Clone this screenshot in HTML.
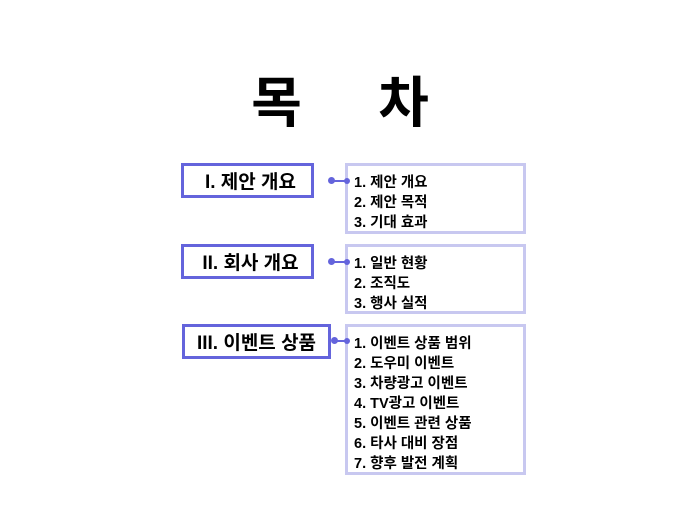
<!DOCTYPE html>
<html><head><meta charset="utf-8"><style>
body{margin:0;width:680px;height:510px;background:#fff;position:relative;font-family:"Liberation Sans","Noto Sans CJK KR",sans-serif;font-weight:bold;color:#000;overflow:hidden}
.t{position:absolute;top:58px;left:0;width:680px;text-align:center;font-size:55px;letter-spacing:0}
.l{position:absolute;border:3px solid #6464dc;box-sizing:border-box;font-size:19px;display:flex;align-items:center;justify-content:center;background:#fff}
.r{position:absolute;border:3px solid #c8c8f0;box-sizing:border-box;font-size:14.5px;line-height:20px;padding:7px 0 0 6px;left:345px;width:181px}
.dot{position:absolute;width:7px;height:7px;border-radius:50%;background:#6464dc}
.ln{position:absolute;height:2px;background:#6464dc}
</style></head><body>
<div class="t">목&nbsp;&nbsp;&nbsp;&nbsp;&nbsp;차</div>

<div class="l" style="left:181px;top:163px;width:133px;height:35px;padding-left:6px">I. 제안 개요</div>
<div class="r" style="top:163px;height:71px">1. 제안 개요<br>2. 제안 목적<br>3. 기대 효과</div>
<div class="ln" style="left:330px;width:18px;top:180px"></div>
<div class="dot" style="left:328px;top:177px"></div><div class="dot" style="left:344px;top:178px;width:6px;height:6px"></div>

<div class="l" style="left:181px;top:244px;width:133px;height:35px;padding-left:6px">II. 회사 개요</div>
<div class="r" style="top:244px;height:70px">1. 일반 현황<br>2. 조직도<br>3. 행사 실적</div>
<div class="ln" style="left:330px;width:18px;top:261px"></div>
<div class="dot" style="left:328px;top:258px"></div><div class="dot" style="left:344px;top:259px;width:6px;height:6px"></div>

<div class="l" style="left:182px;top:324px;width:149px;height:35px">III. 이벤트 상품</div>
<div class="r" style="top:324px;height:151px">1. 이벤트 상품 범위<br>2. 도우미 이벤트<br>3. 차량광고 이벤트<br>4. TV광고 이벤트<br>5. 이벤트 관련 상품<br>6. 타사 대비 장점<br>7. 향후 발전 계획</div>
<div class="ln" style="left:332px;width:16px;top:340px"></div>
<div class="dot" style="left:331px;top:337px"></div><div class="dot" style="left:344px;top:338px;width:6px;height:6px"></div>
</body></html>
